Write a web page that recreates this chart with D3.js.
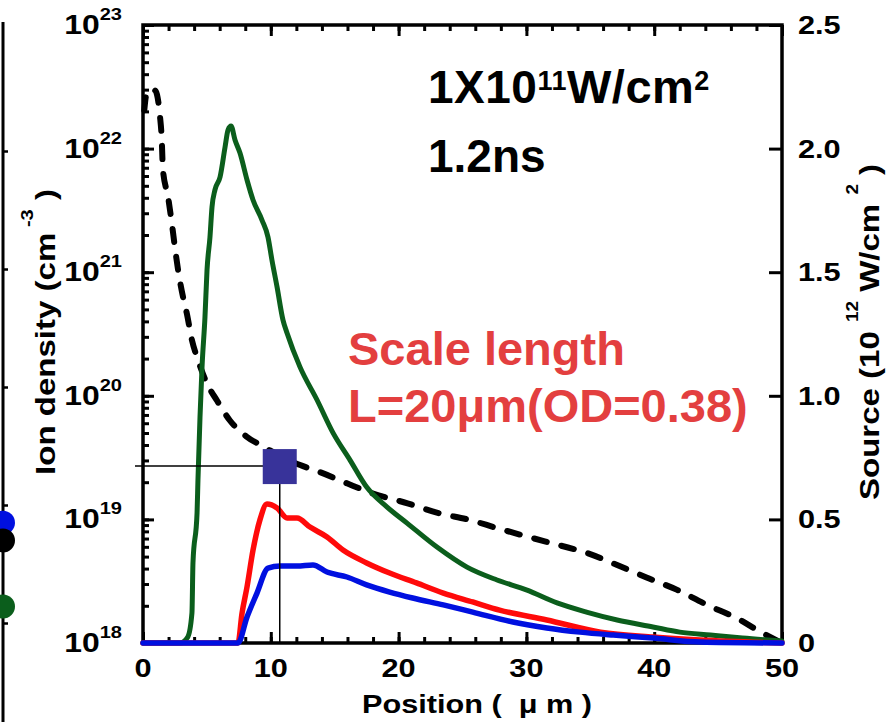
<!DOCTYPE html>
<html><head><meta charset="utf-8">
<script src="https://cdn.jsdelivr.net/npm/d3@7"></script>
<style>
html,body{margin:0;padding:0;background:#fff;}
svg{display:block;}
text{font-family:"Liberation Sans",Arial,Helvetica,sans-serif;font-weight:bold;white-space:pre;}
</style>
</head><body>
<svg id="chart" width="895" height="722"></svg>
<script>
// ---------------- data ----------------
const positionTicks = [0, 10, 20, 30, 40, 50];
const positionTickLabels = ["0", "10", "20", "30", "40", "50"];
const densityTicks = [1e18, 1e19, 1e20, 1e21, 1e22, 1e23];
const densityTickExps = ["18", "19", "20", "21", "22", "23"];
const sourceTicks = [0, 0.5, 1.0, 1.5, 2.0, 2.5];
const sourceTickLabels = ["0", "0.5", "1.0", "1.5", "2.0", "2.5"];

// ion density (left, log axis) - dashed black
const densityPos = [0.1,0.25,0.55,0.95,1.15,1.33,1.46,1.56,1.96,2.25,2.5,2.74,3.13,3.42,3.83,4.3,5.0,5.8,6.8,8.1,9.4,9.9,12.3,13.9,16.0,18.0,20.7,23.2,25.4,27.7,30.1,32.6,34.7,37.1,39.4,41.8,44.1,46.5,48.5,50];
const densityVals = [2.04e22,2.7e22,3.02e22,2.95e22,2.57e22,1.82e22,1.23e22,6.76e21,4.07e21,2.51e21,1.58e21,1.05e21,6.31e20,4.68e20,2.82e20,1.95e20,1.26e20,9.12e19,6.31e19,4.68e19,3.89e19,3.63e19,2.75e19,2.40e19,1.95e19,1.62e19,1.35e19,1.12e19,1.0e19,8.51e18,7.24e18,6.17e18,5.37e18,4.27e18,3.39e18,2.69e18,2.04e18,1.58e18,1.20e18,1.0e18];

// source (right, linear axis)
const greenPos = [0,2.9,3.5,3.83,3.91,4.23,4.3,4.46,4.62,4.85,5.01,5.24,5.4,5.63,6.03,6.42,6.65,6.89,7.2,7.59,8.14,8.61,9.31,9.78,10.09,10.49,10.95,11.27,12.28,13.62,14.87,16.2,17.5,19.1,20.66,23.0,25.35,27.7,30.05,32.4,34.7,37.1,39.9,42.0,44.4,46.9,50];
const greenVals = [0,0,0.024,0.121,0.324,0.526,0.659,0.914,1.117,1.319,1.509,1.642,1.764,1.833,1.885,2.006,2.075,2.091,2.035,1.982,1.873,1.792,1.711,1.642,1.549,1.44,1.307,1.254,1.117,0.983,0.85,0.74,0.631,0.55,0.485,0.388,0.307,0.255,0.214,0.162,0.125,0.093,0.065,0.044,0.032,0.02,0.008];
const redPos = [0,7.43,7.75,8.14,8.61,9.15,9.7,10.49,11.27,12.05,13.07,14.4,15.65,17.5,19.3,21.4,23.5,25.8,27.9,31.6,35.8,39.9,43.6,50];
const redVals = [0,0,0.121,0.227,0.376,0.498,0.562,0.546,0.506,0.506,0.469,0.429,0.376,0.324,0.283,0.243,0.202,0.166,0.133,0.093,0.044,0.024,0.012,0];
const bluePos = [0,7.43,8.14,8.92,9.78,10.72,12.05,13.3,14.4,15.96,17.5,19.3,21.1,23.5,25.8,28.95,31.6,34.2,36.8,39.9,43.6,50];
const blueVals = [0,0,0.105,0.202,0.303,0.311,0.311,0.316,0.287,0.267,0.235,0.206,0.182,0.154,0.125,0.085,0.061,0.044,0.032,0.02,0.004,0];

// marker with crosshair
const markerPos = 10.7;
const markerDensity = 2.7e19;

// remnant of neighbouring panel
const remnantTicks = [0, 1, 2, 3, 4];
const remnantDots = [0.85, 0.70, 0.14];
const remnantColors = ["#0010e0", "#000000", "#0b5e1c"];

// ---------------- layout ----------------
const W = 895, H = 722;
const margin = {left: 143, right: 113, top: 25, bottom: 79};
const X0 = margin.left, X1 = W - margin.right, Y0 = margin.top, Y1 = H - margin.bottom;
const SX = 1.18; // horizontal stretch of axis lettering

const svg = d3.select("#chart");
const x = d3.scaleLinear().domain([0, 50]).range([X0, X1]);
const yL = d3.scaleLog().domain([1e18, 1e23]).range([Y1, Y0]);
const yR = d3.scaleLinear().domain([0, 2.5]).range([Y1, Y0]);

// ---------- remnant panel on far left ----------
const remY = d3.scaleLinear().domain([0, 5]).range([623, 33]);
svg.append("line").attr("x1", 3).attr("x2", 3).attr("y1", 22).attr("y2", H)
  .attr("stroke", "#000").attr("stroke-width", 3);
svg.append("g").attr("transform", "translate(3,0)")
  .call(d3.axisRight(remY).tickValues(remnantTicks).tickSize(5).tickFormat(""))
  .call(g => g.select(".domain").remove())
  .call(g => g.selectAll("line").attr("stroke-width", 2.5));
svg.selectAll("circle.rem").data(remnantDots).join("circle").attr("class", "rem")
  .attr("cx", 3).attr("cy", d => remY(d)).attr("r", 12)
  .attr("fill", (d, i) => remnantColors[i]);

// ---------- axes ticks ----------
const minorX = d3.range(0, 51, 2);
function tickStyle(g) {
  g.select(".domain").remove();
  g.selectAll("line").attr("stroke", "#000").attr("stroke-width", 3);
}
svg.append("g").attr("transform", `translate(0,${Y1})`)
  .call(d3.axisBottom(x).tickValues(minorX).tickSize(-6).tickFormat("")).call(tickStyle);
svg.append("g").attr("transform", `translate(0,${Y1})`)
  .call(d3.axisBottom(x).tickValues(positionTicks).tickSize(-11).tickFormat("")).call(tickStyle);
svg.append("g").attr("transform", `translate(0,${Y0})`)
  .call(d3.axisTop(x).tickValues(minorX).tickSize(-6).tickFormat("")).call(tickStyle);
svg.append("g").attr("transform", `translate(0,${Y0})`)
  .call(d3.axisTop(x).tickValues(positionTicks).tickSize(-11).tickFormat("")).call(tickStyle);
svg.append("g").attr("transform", `translate(${X0},0)`)
  .call(d3.axisLeft(yL).tickValues(yL.ticks()).tickSize(-6).tickFormat("")).call(tickStyle);
svg.append("g").attr("transform", `translate(${X0},0)`)
  .call(d3.axisLeft(yL).tickValues(densityTicks).tickSize(-11).tickFormat("")).call(tickStyle);
svg.append("g").attr("transform", `translate(${X1},0)`)
  .call(d3.axisRight(yR).tickValues(sourceTicks).tickSize(-13).tickFormat("")).call(tickStyle);

// frame
svg.append("rect").attr("x", X0).attr("y", Y0).attr("width", X1 - X0).attr("height", Y1 - Y0)
  .attr("fill", "none").attr("stroke", "#000").attr("stroke-width", 3.5);

// ---------- curves ----------
const densLine = d3.line().x((d, i) => x(densityPos[i])).y(d => yL(d)).curve(d3.curveMonotoneX);
svg.append("path").attr("d", densLine(densityVals))
  .attr("fill", "none").attr("stroke", "#000").attr("stroke-width", 6)
  .attr("stroke-dasharray", "13,15").attr("stroke-linecap", "round").attr("stroke-linejoin", "round");

function srcLine(posArr) {
  return d3.line().x((d, i) => x(posArr[i])).y(d => yR(d)).curve(d3.curveMonotoneX);
}
svg.append("path").attr("d", srcLine(greenPos)(greenVals))
  .attr("fill", "none").attr("stroke", "#0b5e1c").attr("stroke-width", 5).attr("stroke-linejoin", "round").attr("stroke-linecap", "round");
svg.append("path").attr("d", srcLine(redPos)(redVals))
  .attr("fill", "none").attr("stroke", "#ff0a0a").attr("stroke-width", 5.5).attr("stroke-linejoin", "round").attr("stroke-linecap", "round");
svg.append("path").attr("d", srcLine(bluePos)(blueVals))
  .attr("fill", "none").attr("stroke", "#0010e0").attr("stroke-width", 5.5).attr("stroke-linejoin", "round").attr("stroke-linecap", "round");

// ---------- crosshair and marker ----------
svg.append("line").attr("x1", X0 - 8).attr("x2", x(markerPos))
  .attr("y1", yL(markerDensity)).attr("y2", yL(markerDensity)).attr("stroke", "#000").attr("stroke-width", 1.5);
svg.append("line").attr("x1", x(markerPos)).attr("x2", x(markerPos))
  .attr("y1", yL(markerDensity)).attr("y2", Y1).attr("stroke", "#000").attr("stroke-width", 1.5);
svg.append("rect").attr("x", x(markerPos) - 17).attr("y", yL(markerDensity) - 17)
  .attr("width", 34).attr("height", 35).attr("fill", "#38339a");

// ---------- text helpers ----------
function rich(parentG, segs, anchor) {
  const t = parentG.append("text").attr("text-anchor", anchor).attr("fill", "#000");
  segs.forEach(s => t.append("tspan").attr("font-size", s.size).attr("dy", s.dy || 0).text(s.text));
  return t;
}

// left tick labels
densityTicks.forEach((d, i) => {
  const g = svg.append("g").attr("transform", `translate(122,${yL(d) + 9}) scale(${SX},1)`);
  rich(g, [{text: "10", size: 27}, {text: densityTickExps[i], size: 17, dy: -14}], "end");
});
// right tick labels
sourceTicks.forEach((d, i) => {
  const g = svg.append("g").attr("transform", `translate(798,${yR(d) + 9}) scale(${SX},1)`);
  rich(g, [{text: sourceTickLabels[i], size: 26}], "start");
});
// bottom tick labels
positionTicks.forEach((d, i) => {
  const g = svg.append("g").attr("transform", `translate(${x(d)},677) scale(${SX},1)`);
  rich(g, [{text: positionTickLabels[i], size: 26}], "middle");
});

// axis titles
rich(svg.append("g").attr("transform", `translate(477,713) scale(${SX},1)`),
  [{text: "Position (  \u03BC m )", size: 26}], "middle");
rich(svg.append("g").attr("transform", `translate(55,332) rotate(-90) scale(${SX},1)`),
  [{text: "Ion density (cm", size: 28}, {text: " -3", size: 17, dy: -22}, {text: " )", size: 28, dy: 22}], "middle");
rich(svg.append("g").attr("transform", `translate(879,332) rotate(-90) scale(${SX},1)`),
  [{text: "Source (10 ", size: 28}, {text: "12", size: 16, dy: -21}, {text: " W/cm ", size: 28, dy: 21},
   {text: "2", size: 16, dy: -21}, {text: " )", size: 28, dy: 21}], "middle");

// annotations
rich(svg.append("g").attr("transform", "translate(428,103)"),
  [{text: "1X10", size: 46}, {text: "11", size: 27, dy: -13}, {text: "W/cm", size: 47, dy: 13}, {text: "2", size: 27, dy: -13}], "start")
  .attr("letter-spacing", 0.5);
rich(svg.append("g").attr("transform", "translate(428,172)"), [{text: "1.2ns", size: 46}], "start");
rich(svg.append("g").attr("transform", "translate(348,365)"), [{text: "Scale length", size: 47}], "start").attr("fill", "#e33f3f");
rich(svg.append("g").attr("transform", "translate(348,422)"), [{text: "L=20\u03BCm(OD=0.38)", size: 47}], "start").attr("fill", "#e33f3f");
</script>
</body></html>
